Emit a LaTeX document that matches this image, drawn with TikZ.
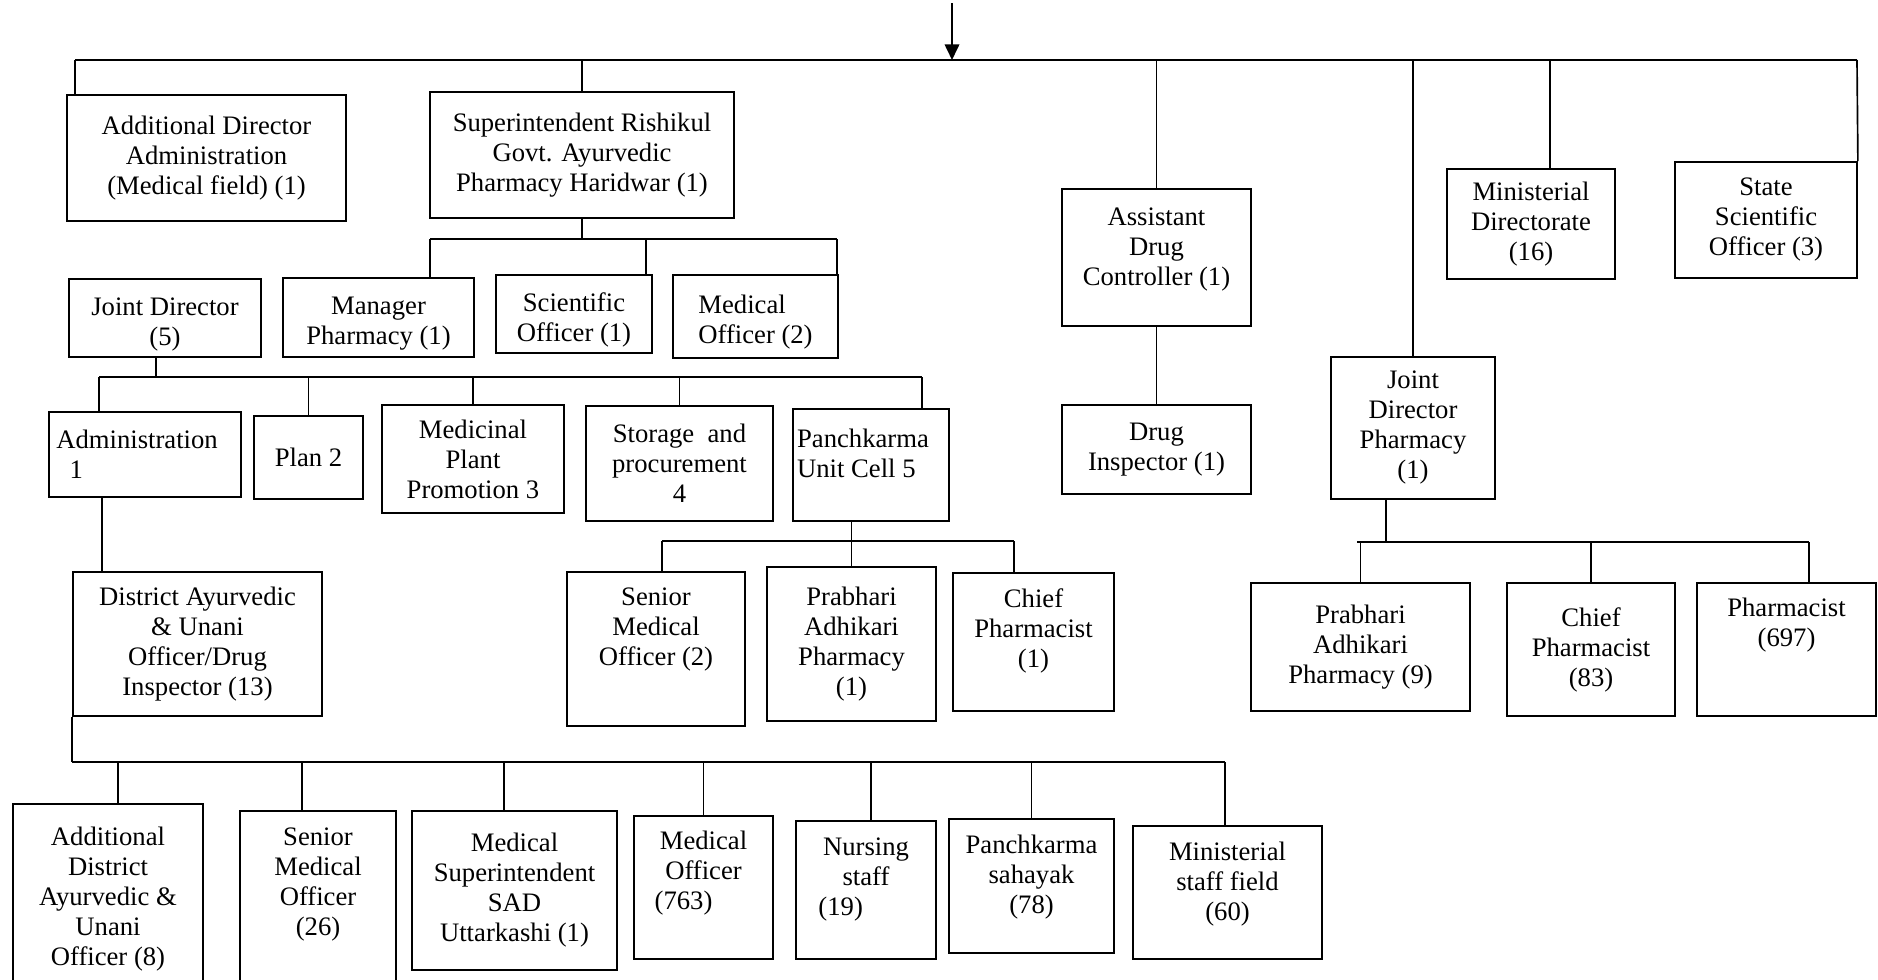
\documentclass[tikz,border=0pt]{standalone}
\usepackage{fontspec}
\setmainfont{Liberation Serif}
\usetikzlibrary{arrows.meta}

\begin{document}
\begin{tikzpicture}[x=0.45pt,y=-0.45pt,
  box/.style={draw,line width=0.8pt,align=center,inner sep=2pt,font=\fontsize{12}{13.5}\selectfont},
  sz/.style 2 args={minimum width=#1*0.45pt,minimum height=#2*0.45pt},
  bus/.style={line width=1pt},
  drop/.style={line width=0.75pt}]
\useasboundingbox (0,0) rectangle (1878,980);
\clip (0,0) rectangle (1878,980);
% first row
\node[box,sz={279}{126}] (adddir) at (206.5,158) {Additional Director\\Administration\\(Medical field) (1)};
\node[box,sz={304}{126}] (sup) at (582,155) {Superintendent Rishikul\\Govt. Ayurvedic\\Pharmacy Haridwar (1)};
\node[box,sz={189}{137}] (adc) at (1156.5,257.5) {Assistant\\Drug\\Controller (1)\\[-3.7pt]\mbox{}};
\node[box,sz={189}{89}] (di) at (1156.5,449.5) {Drug\\Inspector (1)};
\node[box,sz={164}{142}] (jdp) at (1413,428) {Joint\\Director\\Pharmacy\\(1)};
\node[box,sz={168}{110}] (mind) at (1531,224) {Ministerial\\Directorate\\(16)};
\node[box,sz={182}{116}] (ssci) at (1766,220) {State\\Scientific\\Officer (3)};
% second row
\node[box,sz={192}{78}] (jd) at (165,318) {\mbox{}\\Joint Director\\(5)};
\node[box,sz={191}{79}] (mgr) at (378.5,317.5) {\mbox{}\\Manager\\Pharmacy (1)};
\node[box,sz={156}{78}] (sci) at (574,314) {\mbox{}\\Scientific\\Officer (1)};
\node[box,sz={165}{83},align=left] (mo) at (755.5,316.5) {\mbox{}\\Medical\\Officer (2)};
% cells under joint director
\node[box,sz={192}{85},align=left] (adm) at (145,454.5) {Administration\hspace*{0.6em}\mbox{}\\\hspace*{0.5em}1};
\node[box,sz={109}{83}] (plan) at (308.5,457.5) {Plan 2};
\node[box,sz={182}{108}] (mpp) at (473,459) {Medicinal\\Plant\\Promotion 3};
\node[box,sz={187}{115}] (stor) at (679.5,463.5) {Storage\ \ and\\procurement\\4};
\node[box,sz={156}{112},align=left] (pk) at (871,465) {Panchkarma\hspace*{0.6em}\mbox{}\\Unit Cell 5\\[-2.5pt]\mbox{}};
\node[box,sz={249}{144}] (dist) at (197.5,644) {District Ayurvedic\\\& Unani\\Officer/Drug\\Inspector (13)};
\node[box,sz={178}{154}] (smo) at (656,649) {Senior\\Medical\\Officer (2)\\[6.2pt]\mbox{}};
\node[box,sz={169}{154}] (prab) at (851.5,644) {Prabhari\\Adhikari\\Pharmacy\\(1)};
\node[box,sz={161}{138}] (cph) at (1033.5,642) {Chief\\Pharmacist\\(1)\\[-1pt]\mbox{}};
% pharmacy staff
\node[box,sz={219}{128}] (pap) at (1360.5,647) {Prabhari\\Adhikari\\Pharmacy (9)};
\node[box,sz={168}{133}] (cp83) at (1591,649.5) {Chief\\Pharmacist\\(83)};
\node[box,sz={179}{133}] (phm) at (1786.5,649.5) {Pharmacist\\(697)\\[10.7pt]\mbox{}};
% district staff
\node[box,sz={190}{191}] (addist) at (108,899.5) {Additional\\District\\Ayurvedic \&\\Unani\\Officer (8)};
\node[box,sz={156}{184}] (smo26) at (318,903) {Senior\\Medical\\Officer\\(26)\\[5.3pt]\mbox{}};
\node[box,sz={205}{159}] (msup) at (514.5,890.5) {Medical\\Superintendent\\SAD\\Uttarkashi (1)};
\node[box,sz={139}{143}] (mo763) at (703.5,887.5) {Medical\\Officer\\(763)\hspace*{1.5em}\mbox{}\\[1.7pt]\mbox{}};
\node[box,sz={140}{138}] (nurse) at (866,890) {Nursing\\staff\\(19)\hspace*{1.9em}\mbox{}\\[-1.9pt]\mbox{}};
\node[box,sz={165}{134}] (pks) at (1031.5,886) {Panchkarma\\sahayak\\(78)\\[-2.8pt]\mbox{}};
\node[box,sz={189}{133}] (msf) at (1227.5,892.5) {Ministerial\\staff field\\(60)\\[-3.7pt]\mbox{}};
% top bus
\coordinate (head) at (952,3);
\coordinate (topL) at (75,60);
\coordinate (topR) at (1857,60);
\draw[bus] (topL) -- (topR);
\draw[line width=0.9pt,-{Triangle[length=7pt,width=6.5pt]}] (head) -- (head |- topL);
\draw[drop] (topL) -- (topL |- adddir.north);
\draw[drop] (sup.north) -- (sup.north |- topL);
\draw[drop] (adc.north) -- (adc.north |- topL);
\draw[drop] (jdp.north) -- (jdp.north |- topL);
\draw[drop] (mind.north -| 1550,0) -- (1550,0 |- topL);
\draw[drop] (topR) -- (ssci.north east);
\draw[drop] (adc.south) -- (di.north);
% superintendent
\coordinate (sbusL) at (430,239);
\coordinate (sbusR) at (837,239);
\draw[drop] (sup.south) -- (sup.south |- sbusL);
\draw[bus] (sbusL) -- (sbusR);
\draw[drop] (sbusL) -- (sbusL |- mgr.north);
\draw[drop] (sci.north -| 646,0) -- (646,0 |- sbusL);
\draw[drop] (sbusR) -- (sbusR |- mo.north);
% joint director
\coordinate (jbusL) at (99,377);
\coordinate (jbusR) at (922,377);
\draw[drop] (jd.south -| 156,0) -- (156,0 |- jbusL);
\draw[bus] (jbusL) -- (jbusR);
\draw[drop] (jbusL) -- (jbusL |- adm.north);
\draw[drop] (plan.north) -- (plan.north |- jbusL);
\draw[drop] (mpp.north) -- (mpp.north |- jbusL);
\draw[drop] (stor.north) -- (stor.north |- jbusL);
\draw[drop] (jbusR) -- (jbusR |- pk.north);
\draw[drop] (adm.south -| 102,0) -- (102,0 |- dist.north);
% panchkarma cell
\coordinate (pbusL) at (662,541);
\coordinate (pbusR) at (1014,541);
\draw[drop] (pk.south -| prab.north) -- (prab.north);
\draw[bus] (pbusL) -- (pbusR);
\draw[drop] (pbusL) -- (pbusL |- smo.north);
\draw[drop] (pbusR) -- (pbusR |- cph.north);
% joint director pharmacy
\coordinate (qbusL) at (1357,542);
\coordinate (qbusR) at (1809,542);
\draw[drop] (jdp.south -| 1386,0) -- (1386,0 |- qbusL);
\draw[bus] (qbusL) -- (qbusR);
\draw[drop] (pap.north) -- (pap.north |- qbusL);
\draw[drop] (cp83.north) -- (cp83.north |- qbusL);
\draw[drop] (qbusR) -- (qbusR |- phm.north);
% district officer
\coordinate (dbusR) at (1225,762);
\draw[drop] (dist.south west) -- (dist.south west |- dbusR);
\draw[bus] (dist.south west |- dbusR) -- (dbusR);
\draw[drop] (addist.north -| 118,0) -- (118,0 |- dbusR);
\draw[drop] (smo26.north -| 302,0) -- (302,0 |- dbusR);
\draw[drop] (msup.north -| 504,0) -- (504,0 |- dbusR);
\draw[drop] (mo763.north) -- (mo763.north |- dbusR);
\draw[drop] (nurse.north -| 871,0) -- (871,0 |- dbusR);
\draw[drop] (pks.north) -- (pks.north |- dbusR);
\draw[drop] (dbusR) -- (dbusR |- msf.north);
\end{tikzpicture}
\end{document}
